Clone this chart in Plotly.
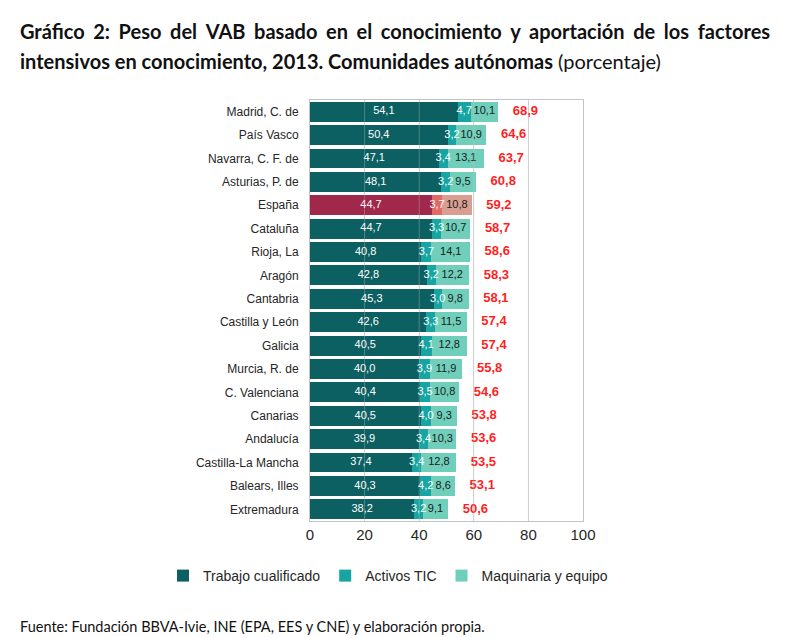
import plotly.graph_objects as go

regions = ["Madrid, C. de", "País Vasco", "Navarra, C. F. de", "Asturias, P. de", "España",
           "Cataluña", "Rioja, La", "Aragón", "Cantabria", "Castilla y León", "Galicia",
           "Murcia, R. de", "C. Valenciana", "Canarias", "Andalucía", "Castilla-La Mancha",
           "Balears, Illes", "Extremadura"]
trabajo = [54.1, 50.4, 47.1, 48.1, 44.7, 44.7, 40.8, 42.8, 45.3, 42.6, 40.5, 40.0, 40.4, 40.5, 39.9, 37.4, 40.3, 38.2]
tic = [4.7, 3.2, 3.4, 3.2, 3.7, 3.3, 3.7, 3.2, 3.0, 3.3, 4.1, 3.9, 3.5, 4.0, 3.4, 3.4, 4.2, 3.2]
maq = [10.1, 10.9, 13.1, 9.5, 10.8, 10.7, 14.1, 12.2, 9.8, 11.5, 12.8, 11.9, 10.8, 9.3, 10.3, 12.8, 8.6, 9.1]
total = [68.9, 64.6, 63.7, 60.8, 59.2, 58.7, 58.6, 58.3, 58.1, 57.4, 57.4, 55.8, 54.6, 53.8, 53.6, 53.5, 53.1, 50.6]
x_ticks = [0, 20, 40, 60, 80, 100]

series_names = ["Trabajo cualificado", "Activos TIC", "Maquinaria y equipo"]
base_colors = ["#0d6062", "#16a5a2", "#6fcfba"]
spain_colors = ["#9f284b", "#e06a66", "#d99e92"]
text_colors = ["#ffffff", "#ffffff", "#1a1a1a"]

def fmt(v):
    return f"{v:.1f}".replace(".", ",")

# plot area in pixels
W, H = 800, 638
L, R, T, B = 310, 583, 100, 521
PW, PH = R - L, B - T

series = [trabajo, tic, maq]
fig = go.Figure()
for name, vals, col, scol in zip(series_names, series, base_colors, spain_colors):
    colors = [scol if r == "España" else col for r in regions]
    fig.add_trace(go.Bar(
        y=regions, x=vals, orientation="h", name=name,
        marker=dict(color=colors, line=dict(width=0)),
        hoverinfo="skip",
    ))

# segment value labels (drawn on top of all bars), centred in each segment
start = [0.0] * len(regions)
for vals, tcol in zip(series, text_colors):
    mids = [s + v / 2 for s, v in zip(start, vals)]
    fig.add_trace(go.Scatter(
        y=regions, x=mids, mode="text", text=[fmt(v) for v in vals],
        textposition="middle center",
        textfont=dict(family="Liberation Sans, Arial", size=11, color=tcol),
        showlegend=False, hoverinfo="skip", cliponaxis=False,
    ))
    start = [s + v for s, v in zip(start, vals)]

# totals, to the right of each bar
fig.add_trace(go.Scatter(
    y=regions, x=[t + 10 for t in total], mode="text",
    text=[fmt(t) for t in total], textposition="middle center",
    textfont=dict(family="Liberation Sans, Arial", size=13, color="#ff1f1f", weight="bold"),
    showlegend=False, hoverinfo="skip", cliponaxis=False,
))

# faint grid over bars (reference shows gridlines through the bars)
for t in x_ticks[1:-1]:
    fig.add_shape(type="line", xref="x", yref="paper", x0=t, x1=t, y0=0, y1=1,
                  line=dict(color="rgba(200,200,200,0.35)", width=1), layer="above")

fig.update_layout(
    width=W, height=H,
    margin=dict(l=L, r=W - R, t=T, b=H - B, autoexpand=False),
    paper_bgcolor="white", plot_bgcolor="white",
    barmode="stack", bargap=0.15,
    font=dict(family="Liberation Sans, Arial", color="#262626"),
    showlegend=True,
    legend=dict(orientation="h", xref="paper", yref="paper",
                x=(163 - L) / PW, xanchor="left", y=(B - 576) / PH, yanchor="middle",
                font=dict(size=14, color="#262626"), traceorder="normal",
                itemwidth=30, tracegroupgap=0, bgcolor="rgba(0,0,0,0)"),
    xaxis=dict(range=[0, 100], tickvals=x_ticks, ticktext=[str(t) for t in x_ticks],
               showgrid=True, gridcolor="#d4d4d4", gridwidth=1,
               showline=True, mirror=True, linecolor="#c4c4c4", linewidth=1,
               zeroline=False, ticks="", tickfont=dict(size=15, color="#262626"), fixedrange=True),
    yaxis=dict(range=[len(regions) - 0.5, -0.5], showline=True, mirror=True,
               linecolor="#c4c4c4", linewidth=1,
               ticks="", ticklabelstandoff=8, tickfont=dict(size=12, color="#262626"), fixedrange=True),
)

title_font = "Lato, Calibri, Carlito, sans-serif"
line1 = "Gráfico 2: Peso del VAB basado en el conocimiento y aportación de los factores"
fig.add_annotation(
    xref="paper", yref="paper", x=(18 - L) / PW, y=(B - 31) / PH, xanchor="left", yanchor="middle",
    text="<b>" + line1.replace(" ", " \u2009\u200a") + "</b>",
    showarrow=False, font=dict(family=title_font, size=20, color="#111111"))
fig.add_annotation(
    xref="paper", yref="paper", x=(18 - L) / PW, y=(B - 61) / PH, xanchor="left", yanchor="middle",
    text="<b>intensivos en conocimiento, 2013. Comunidades autónomas</b> (porcentaje)",
    showarrow=False, font=dict(family=title_font, size=20, color="#111111"))
fig.add_annotation(
    xref="paper", yref="paper", x=(18 - L) / PW, y=(B - 626) / PH, xanchor="left", yanchor="middle",
    text="Fuente: Fundación BBVA-Ivie, INE (EPA, EES y CNE) y elaboración propia.",
    showarrow=False, font=dict(family=title_font, size=14.5, color="#111111"))

fig.write_html("out.html", config={"displayModeBar": False},
               post_script="document.body.style.margin='0';document.body.style.overflow='hidden';")
